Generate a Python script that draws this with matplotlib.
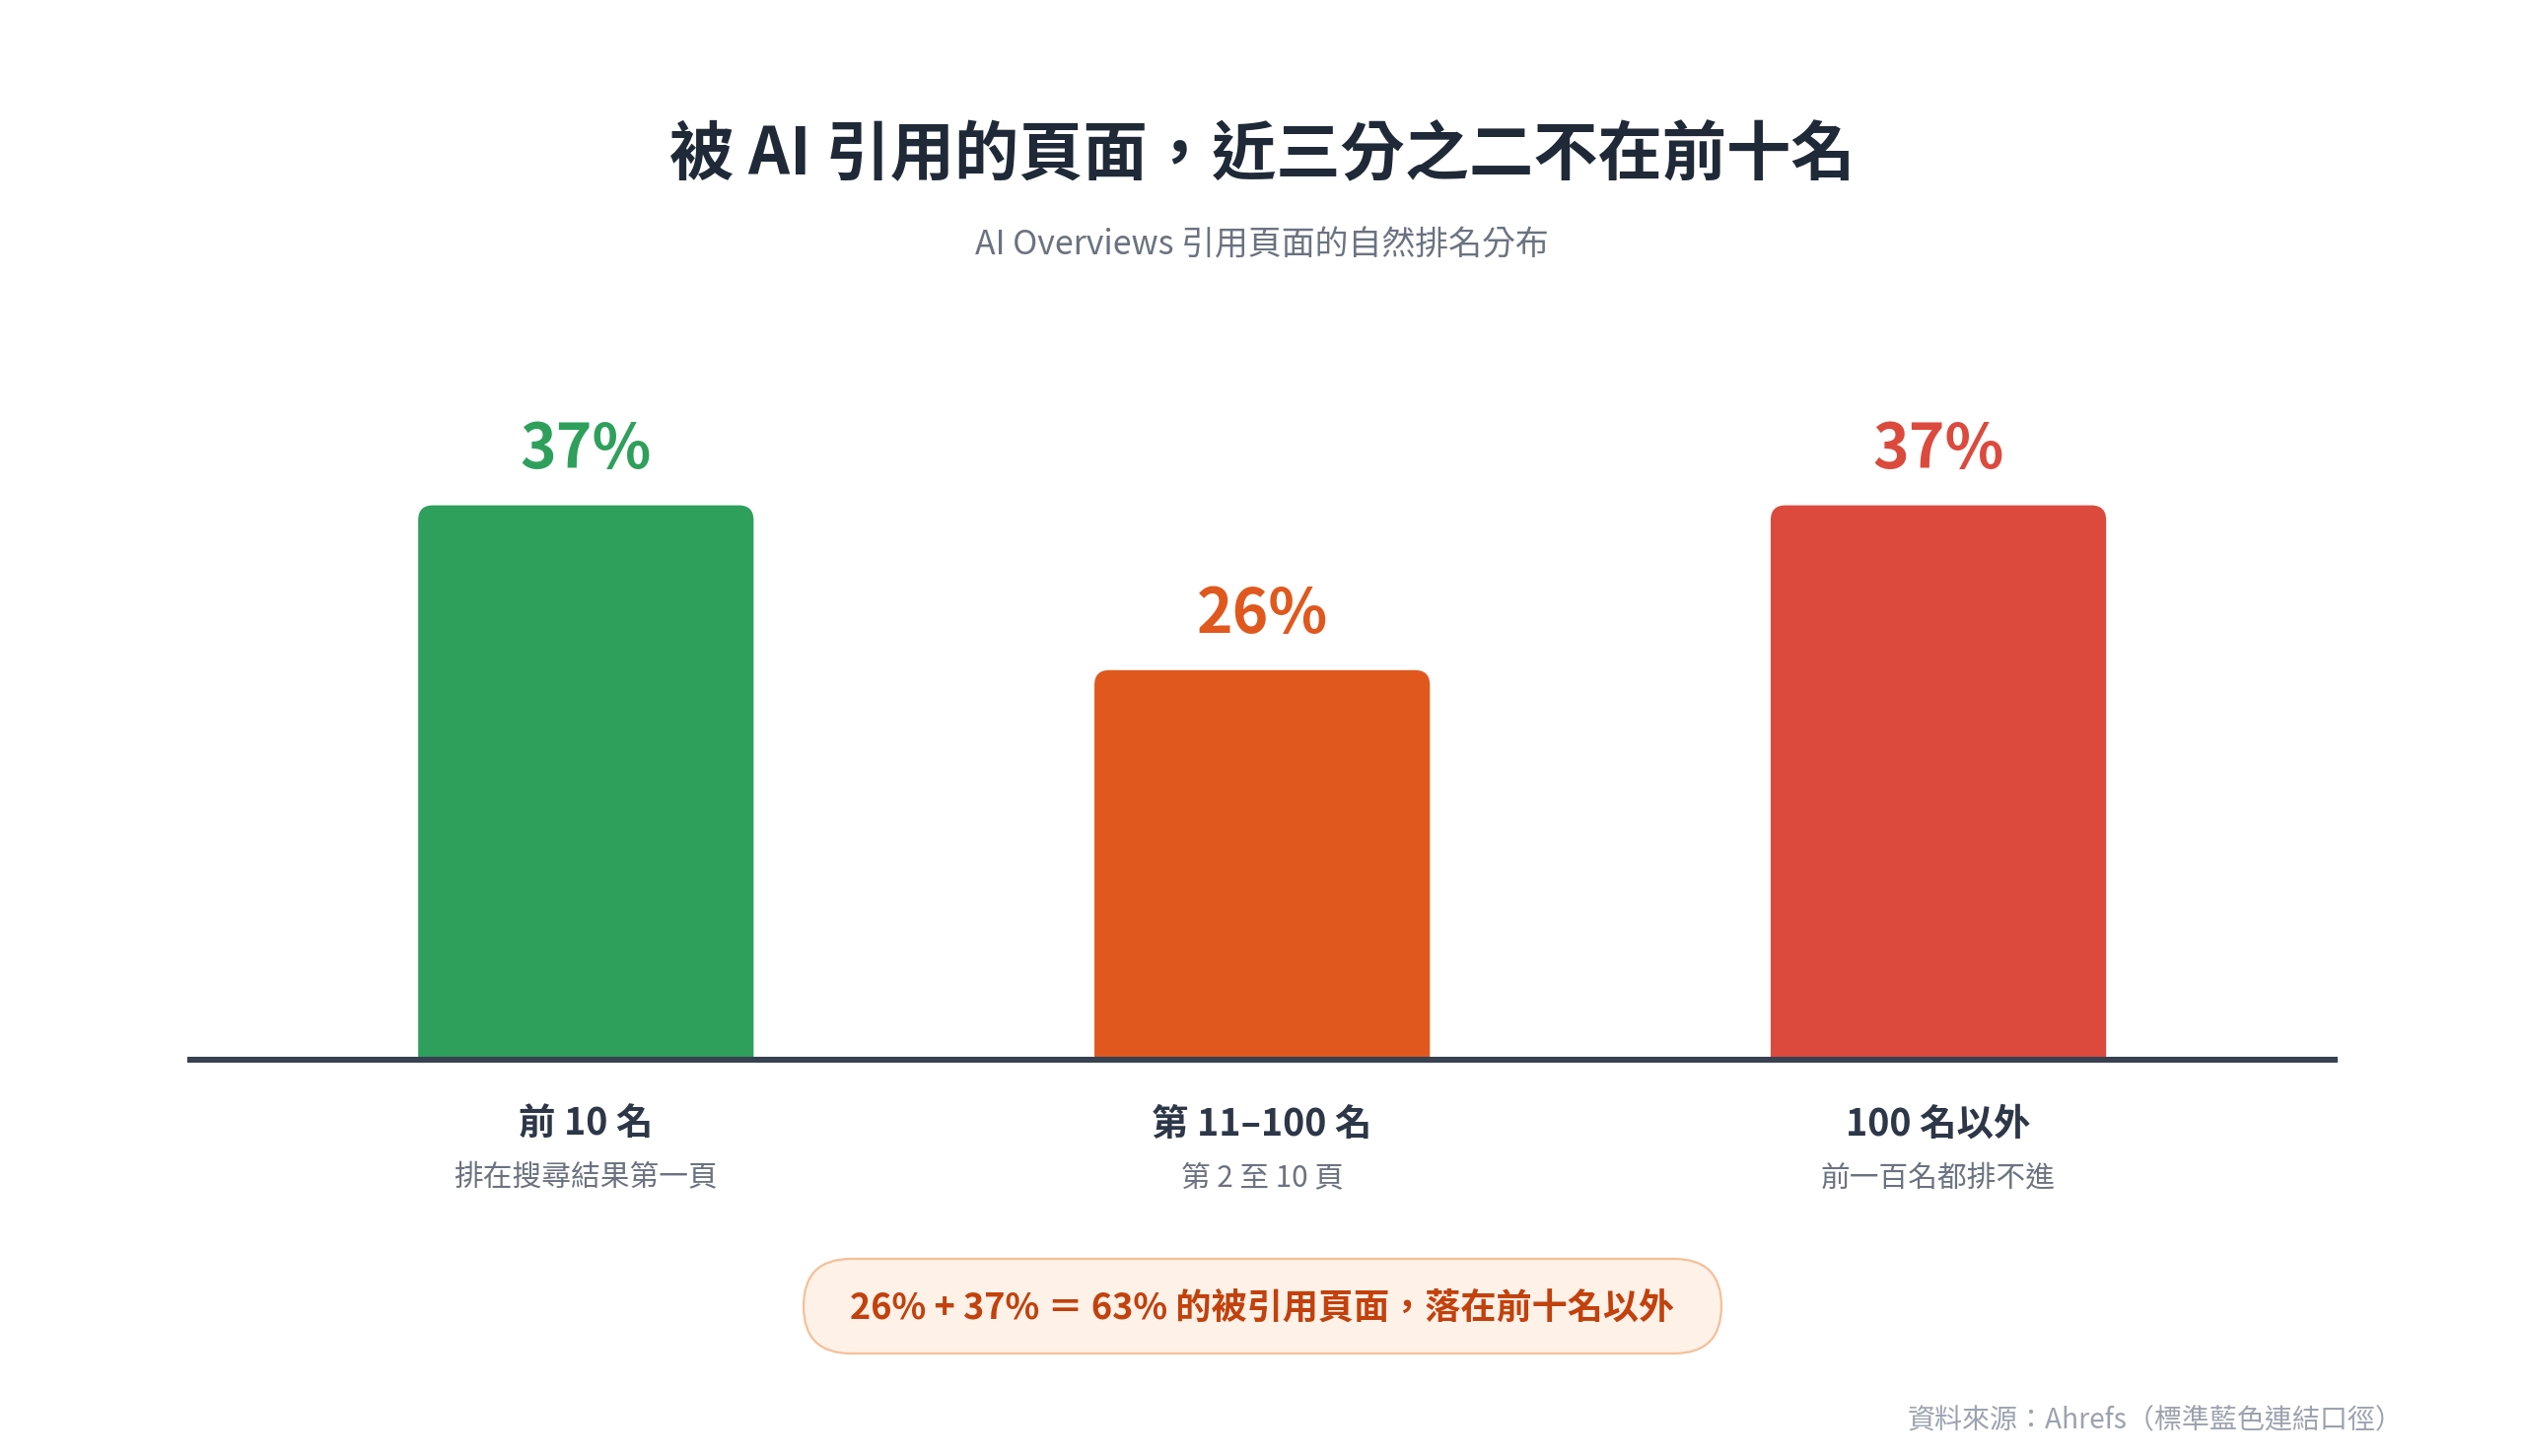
import matplotlib
matplotlib.use("Agg")
import matplotlib.pyplot as plt
from matplotlib.patches import FancyBboxPatch

plt.rcParams['font.family'] = ['Noto Sans CJK TC', 'DejaVu Sans']

# data
categories = ["前 10 名", "第 11–100 名", "100 名以外"]
sublabels = ["排在搜尋結果第一頁", "第 2 至 10 頁", "前一百名都排不進"]
shares = [37, 26, 37]
bar_colors = ["#2ea05c", "#e0581e", "#db4a3d"]

title = "被 AI 引用的頁面，近三分之二不在前十名"
subtitle = "AI Overviews 引用頁面的自然排名分布"
callout = "26% + 37% ＝ 63% 的被引用頁面，落在前十名以外"
source = "資料來源：Ahrefs（標準藍色連結口徑）"

W, H, DPI = 2560, 1477, 200
fig = plt.figure(figsize=(W / DPI, H / DPI), dpi=DPI)
fig.patch.set_facecolor("white")

# axes placed in pixels: baseline at y=1075, spans x 193..2368
base_px, top_px = 1075, 300
ax = fig.add_axes([193 / W, (H - base_px) / H, 2175 / W, (base_px - top_px) / H])
ax.set_xlim(-0.585, 2.586)
px_per_unit_y = 15.2
ax.set_ylim(0, (base_px - top_px) / px_per_unit_y)
ax.axis("off")

bar_w = 0.496
x_px = 686.0
r_x = 15 / x_px
aspect = x_px / px_per_unit_y
for i, (v, c) in enumerate(zip(shares, bar_colors)):
    p = FancyBboxPatch((i - bar_w / 2, -3), bar_w, v + 3,
                       boxstyle=f"round,pad=0,rounding_size={r_x}",
                       mutation_aspect=aspect, fc=c, ec="none", zorder=2)
    ax.add_patch(p)
    ax.annotate(f"{v}%", (i, v), xytext=(0, 56 * 72 / DPI), textcoords="offset points",
                ha="center", va="center", fontsize=22.4, fontweight="bold", color=c)
    ax.annotate(categories[i], (i, 0), xytext=(0, -65 * 72 / DPI), textcoords="offset points",
                ha="center", va="center", fontsize=13.5, fontweight="bold", color="#2d3748",
                annotation_clip=False)
    ax.annotate(sublabels[i], (i, 0), xytext=(0, -120 * 72 / DPI), textcoords="offset points",
                ha="center", va="center", fontsize=10.7, color="#6b7280",
                annotation_clip=False)

ax.axhline(0, color="#374151", lw=6 * 72 / DPI, zorder=3, clip_on=False)

# titles
fig.text(0.5, 1 - 158 / H, title, ha="center", va="center", fontsize=23.5,
         fontweight=900, color="#1f2937")
fig.text(0.5, 1 - 249 / H, subtitle, ha="center", va="center", fontsize=12.2,
         color="#6b7280")

# callout pill
box = FancyBboxPatch((815 / DPI, (H - 1373) / DPI), 931 / DPI, 96 / DPI,
                     boxstyle=f"round,pad=0,rounding_size={48 / DPI}",
                     transform=fig.dpi_scale_trans, fc="#fef1e8", ec="#f6bf97",
                     lw=2.2 * 72 / DPI)
fig.patches.append(box)
fig.text(1280 / W, 1 - 1327 / H, callout, ha="center", va="center", fontsize=13.0,
         fontweight="bold", color="#c2410c")

fig.text(2438 / W, 1 - 1440 / H, source, ha="right", va="center", fontsize=10.1,
         color="#9ca3af")

fig.savefig("out.png", dpi=DPI, facecolor="white")
